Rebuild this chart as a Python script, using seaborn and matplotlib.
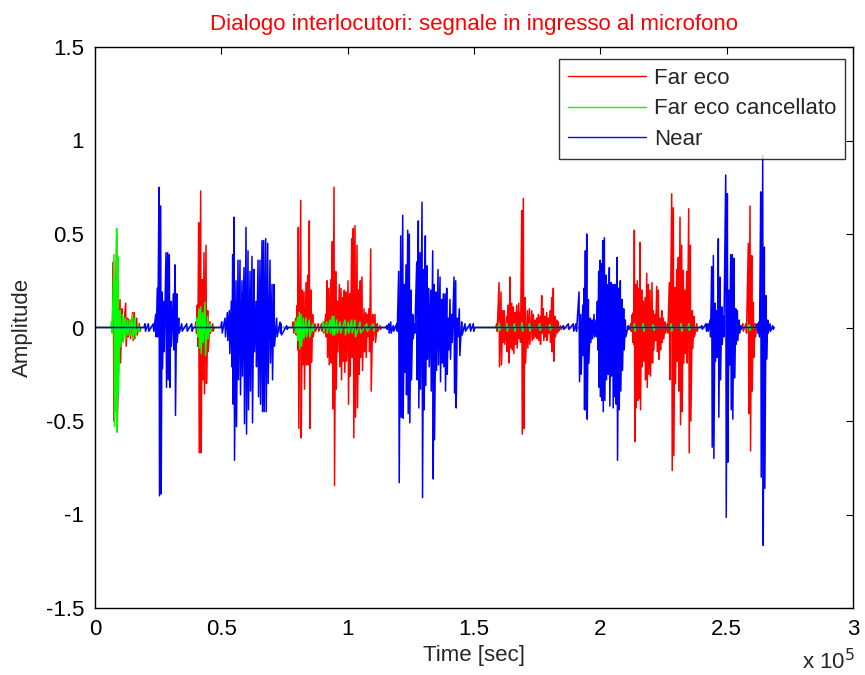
import numpy as np
import pandas as pd
import matplotlib
matplotlib.use("Agg")
import matplotlib.pyplot as plt
import seaborn as sns
from matplotlib.ticker import FuncFormatter, MultipleLocator

# ---------------- data (sample index, positive peak, negative peak)
far_t = [7260, 8580, 9900, 10690, 12140, 12930, 13850, 14900, 15560, 16500, 17540,
         39980, 40490, 41040, 41830, 42470, 43140, 43930, 44600, 45520, 46580,
         78490, 79440, 80070, 80470, 81420, 82050, 82720, 83510, 84180, 84820, 85490, 86160, 87080, 88380, 89700,
         90360, 91310, 91830, 92500, 93290, 93930, 94600, 95270, 95910, 96700, 97370, 98040, 98670, 99340,
         100140, 100810, 101600, 102230, 102910, 103700, 104370, 105000, 105680, 106470, 107140, 107780,
         108450, 109120, 109910, 110820, 111730, 112800,
         158990, 159900, 160690, 161360, 162000, 162950, 163580, 164260, 164930, 165560, 166240, 166910,
         167700, 168220, 168890, 169520, 170190, 171110, 171900, 172840, 173480, 174150, 174830, 175460,
         176130, 176800, 177440, 178110, 178780, 179420, 180090, 180760, 181390, 182070, 182740, 183380, 184320,
         212030, 212660, 213060, 213460, 214010, 214640, 215190, 215710, 216380, 217010, 217690, 218360,
         218990, 219670, 220460, 220970, 221650, 222320, 222960, 223630, 224300, 224930, 225610, 226520,
         227310, 228250, 228890, 229560, 230240, 230870, 231540, 232210, 232840, 233520, 234190, 234980,
         235620, 236410, 237080, 238150,
         256360, 257660, 258570, 259250, 259920, 260550, 261230, 261900]
far_hi = [0.35, 0.50, 0.15, 0.10, 0.13, 0.05, 0.04, 0.08, 0.08, 0.05, 0.02,
          0.03, 0.12, 0.56, 0.73, 0.255, 0.40, 0.44, 0.09, 0.03, 0.02,
          0.03, 0.05, 0.12, 0.535, 0.68, 0.20, 0.19, 0.24, 0.28, 0.57, 0.20, 0.07, 0.02, 0.02, 0.02,
          0.03, 0.07, 0.25, 0.21, 0.255, 0.46, 0.75, 0.30, 0.14, 0.23, 0.21, 0.16, 0.20, 0.19,
          0.25, 0.18, 0.475, 0.53, 0.545, 0.44, 0.20, 0.25, 0.27, 0.10, 0.08, 0.07,
          0.10, 0.42, 0.07, 0.07, 0.02, 0.01,
          0.02, 0.24, 0.19, 0.09, 0.09, 0.06, 0.12, 0.27, 0.13, 0.11, 0.08, 0.12,
          0.13, 0.08, 0.625, 0.69, 0.16, 0.09, 0.10, 0.09, 0.07, 0.04, 0.05, 0.07,
          0.06, 0.17, 0.10, 0.06, 0.08, 0.05, 0.09, 0.16, 0.21, 0.06, 0.04, 0.03, 0.01,
          0.02, 0.07, 0.08, 0.52, 0.23, 0.25, 0.21, 0.455, 0.20, 0.14, 0.16, 0.29,
          0.23, 0.20, 0.24, 0.09, 0.07, 0.22, 0.20, 0.05, 0.09, 0.05, 0.03, 0.02,
          0.24, 0.715, 0.64, 0.215, 0.31, 0.375, 0.59, 0.44, 0.305, 0.20, 0.30, 0.635,
          0.44, 0.09, 0.06, 0.02,
          0.02, 0.02, 0.45, 0.65, 0.385, 0.135, 0.02, 0.01]
far_lo = [-0.50, -0.55, -0.19, -0.07, -0.10, -0.05, -0.06, -0.07, -0.06, -0.04, -0.02,
          -0.03, -0.10, -0.67, -0.67, -0.28, -0.355, -0.30, -0.13, -0.03, -0.02,
          -0.03, -0.04, -0.12, -0.54, -0.59, -0.20, -0.33, -0.20, -0.20, -0.54, -0.185, -0.05, -0.02, -0.02, -0.02,
          -0.03, -0.05, -0.16, -0.20, -0.19, -0.435, -0.845, -0.33, -0.13, -0.21, -0.28, -0.18, -0.24, -0.18,
          -0.41, -0.26, -0.16, -0.59, -0.48, -0.43, -0.25, -0.16, -0.23, -0.13, -0.16, -0.05,
          -0.13, -0.34, -0.07, -0.08, -0.02, -0.01,
          -0.02, -0.21, -0.20, -0.08, -0.09, -0.13, -0.19, -0.11, -0.12, -0.14, -0.09, -0.11,
          -0.06, -0.08, -0.57, -0.54, -0.19, -0.11, -0.09, -0.07, -0.06, -0.05, -0.06, -0.07,
          -0.09, -0.03, -0.07, -0.05, -0.07, -0.03, -0.08, -0.13, -0.18, -0.05, -0.03, -0.02, -0.01,
          -0.02, -0.08, -0.09, -0.61, -0.43, -0.39, -0.38, -0.44, -0.21, -0.18, -0.28, -0.32,
          -0.25, -0.26, -0.19, -0.12, -0.07, -0.13, -0.17, -0.12, -0.08, -0.06, -0.03, -0.03,
          -0.28, -0.765, -0.685, -0.30, -0.18, -0.34, -0.52, -0.45, -0.19, -0.14, -0.19, -0.67,
          -0.50, -0.11, -0.05, -0.02,
          -0.02, -0.03, -0.46, -0.66, -0.34, -0.16, -0.05, -0.01]

canc_t = [6600, 7520, 8190, 8580, 9100, 9900, 10960, 11870, 12800, 13850, 14900, 15830, 17150,
          40490, 41170, 41830, 42600, 43540, 44600, 45520,
          79440, 80200, 80870, 81530, 82450, 83510, 84820, 86160,
          90360, 91700, 93010, 93930, 94600, 95670, 96970, 98950, 100270, 101600, 102910, 104890, 107530, 110170,
          160000, 163000, 166000, 169000, 172000, 176000, 180000,
          213500, 217000, 221000, 228000, 232000, 235000,
          259000]
canc_hi = [0.03, 0.39, 0.25, 0.53, 0.38, 0.09, 0.07, 0.05, 0.04, 0.04, 0.07, 0.05, 0.02,
           0.05, 0.10, 0.11, 0.08, 0.135, 0.06, 0.02,
           0.03, 0.055, 0.08, 0.07, 0.05, 0.05, 0.04, 0.02,
           0.03, 0.03, 0.04, 0.06, 0.06, 0.04, 0.03, 0.04, 0.03, 0.04, 0.04, 0.03, 0.02, 0.02,
           0.02, 0.02, 0.02, 0.025, 0.02, 0.02, 0.015,
           0.02, 0.02, 0.015, 0.02, 0.02, 0.02,
           0.015]
canc_lo = [-0.03, -0.53, -0.45, -0.56, -0.35, -0.10, -0.08, -0.06, -0.04, -0.04, -0.06, -0.05, -0.02,
           -0.05, -0.11, -0.14, -0.08, -0.15, -0.06, -0.02,
           -0.03, -0.07, -0.115, -0.10, -0.06, -0.05, -0.05, -0.02,
           -0.02, -0.03, -0.03, -0.04, -0.04, -0.03, -0.03, -0.04, -0.03, -0.03, -0.05, -0.03, -0.02, -0.02,
           -0.015, -0.02, -0.02, -0.02, -0.02, -0.015, -0.015,
           -0.02, -0.02, -0.015, -0.02, -0.02, -0.015,
           -0.015]

near_t = [19790, 21100, 23080, 24020, 24660, 25330, 26000, 26520, 27190, 28100, 28770, 29410, 30080,
          31000, 31660, 32340, 33130, 34320, 36300, 38270,
          50150, 51450, 52370, 53150, 53950, 54500, 55020, 55810, 56600, 57390, 58180, 58970, 59770,
          60560, 61350, 62140, 62930, 63720, 64520, 65310, 66100, 66760, 67560, 68350, 69270, 70060,
          70850, 71900, 73220, 73620, 75870,
          115450, 116240, 117040, 118070, 119410, 120200, 120990, 121790, 122420, 123090, 123760, 124400,
          125070, 125750, 126380, 127330, 127960, 128640, 129430, 130100, 130730, 131400, 132080, 132870,
          133660, 134180, 134970, 135760, 136550, 137220, 137860, 138530, 139200, 139840, 140510, 141180,
          142090, 142760, 143400, 144190, 145120, 146450, 148430, 149720,
          185370, 187350, 189300, 190380, 191570, 192240, 193030, 193550, 194070, 194620, 195250, 196040,
          196710, 197500, 198290, 198820, 199360, 199880, 200400, 200950, 201590, 202250, 202920, 203560,
          204230, 204900, 205540, 206090, 206610, 207280, 207910, 208580, 209250, 209890, 211080,
          240130, 241830, 242490, 243420, 244080, 244740, 245400, 246070, 246700, 247380, 248050, 248680,
          249630, 250270, 250940, 251610, 252240, 252910, 253590, 254220, 254890, 255560,
          262140, 262810, 263480, 264270, 264910, 265580, 266250, 267170, 268230]
near_hi = [0.02, 0.02, 0.02, 0.07, 0.21, 0.75, 0.65, 0.19, 0.14, 0.40, 0.40, 0.39, 0.14,
           0.18, 0.335, 0.18, 0.05, 0.02, 0.02, 0.02,
           0.03, 0.05, 0.08, 0.09, 0.14, 0.39, 0.59, 0.25, 0.36, 0.36, 0.25, 0.32, 0.535,
           0.41, 0.30, 0.38, 0.31, 0.14, 0.36, 0.36, 0.465, 0.465, 0.475, 0.45, 0.36, 0.23,
           0.23, 0.05, 0.03, 0.02, 0.01,
           0.01, 0.02, 0.03, 0.01, 0.02, 0.30, 0.49, 0.60, 0.23, 0.335, 0.52, 0.50,
           0.20, 0.07, 0.02, 0.35, 0.57, 0.40, 0.67, 0.31, 0.49, 0.33, 0.21, 0.20,
           0.41, 0.23, 0.19, 0.31, 0.27, 0.15, 0.18, 0.18, 0.21, 0.05, 0.15, 0.07,
           0.27, 0.25, 0.05, 0.10, 0.03, 0.02, 0.02, 0.02,
           0.01, 0.02, 0.02, 0.02, 0.19, 0.07, 0.12, 0.21, 0.41, 0.50, 0.15, 0.05,
           0.04, 0.07, 0.04, 0.14, 0.30, 0.36, 0.34, 0.465, 0.48, 0.28, 0.23, 0.32,
           0.24, 0.23, 0.23, 0.23, 0.375, 0.21, 0.25, 0.15, 0.10, 0.04, 0.01,
           0.01, 0.02, 0.02, 0.04, 0.325, 0.385, 0.13, 0.09, 0.475, 0.27, 0.11, 0.06,
           0.815, 0.715, 0.20, 0.39, 0.39, 0.37, 0.10, 0.09, 0.04, 0.01,
           0.02, 0.03, 0.725, 0.92, 0.43, 0.17, 0.04, 0.02, 0.01]
near_lo = [-0.02, -0.02, -0.02, -0.05, -0.05, -0.90, -0.89, -0.22, -0.13, -0.32, -0.28, -0.32, -0.10,
           -0.12, -0.47, -0.08, -0.03, -0.02, -0.02, -0.02,
           -0.03, -0.05, -0.07, -0.14, -0.21, -0.41, -0.71, -0.53, -0.28, -0.36, -0.26, -0.515, -0.57,
           -0.44, -0.34, -0.51, -0.13, -0.21, -0.37, -0.41, -0.45, -0.45, -0.45, -0.30, -0.19, -0.28,
           -0.10, -0.05, -0.03, -0.04, -0.01,
           -0.01, -0.03, -0.03, -0.02, -0.02, -0.83, -0.48, -0.485, -0.24, -0.36, -0.46, -0.51,
           -0.28, -0.06, -0.03, -0.28, -0.43, -0.33, -0.91, -0.44, -0.31, -0.17, -0.21, -0.34,
           -0.81, -0.60, -0.23, -0.20, -0.29, -0.19, -0.21, -0.34, -0.25, -0.12, -0.17, -0.08,
           -0.35, -0.43, -0.05, -0.15, -0.04, -0.02, -0.02, -0.02,
           -0.01, -0.01, -0.02, -0.02, -0.29, -0.25, -0.15, -0.44, -0.44, -0.49, -0.19, -0.08,
           -0.06, -0.05, -0.05, -0.12, -0.32, -0.37, -0.39, -0.45, -0.39, -0.28, -0.25, -0.42,
           -0.26, -0.43, -0.37, -0.41, -0.71, -0.44, -0.34, -0.23, -0.12, -0.05, -0.01,
           -0.01, -0.02, -0.02, -0.05, -0.64, -0.70, -0.18, -0.16, -0.48, -0.28, -0.09, -0.05,
           -1.015, -0.72, -0.20, -0.44, -0.49, -0.27, -0.09, -0.07, -0.03, -0.01,
           -0.03, -0.05, -0.80, -1.165, -0.86, -0.17, -0.03, -0.02, -0.01]

signal_end = 268500
series_names = ["Far eco", "Far eco cancellato", "Near"]
series_colors = ["#ff0000", "#00ff00", "#0000ff"]
title_text = "Dialogo interlocutori: segnale in ingresso al microfono"


def waveform(t, hi, lo, end, half=200, gap=2500):
    """Turn peak lists into a zig-zag trace on a zero baseline."""
    xs, ys = [0.0], [0.0]
    prev = None
    for ti, h, l in zip(t, hi, lo):
        if prev is None or ti - prev > gap:
            if prev is not None:
                xs.append(prev + 2 * half); ys.append(0.0)
            xs.append(ti - 2 * half); ys.append(0.0)
        xs += [ti, ti + half]
        ys += [h, l]
        prev = ti + half
    xs += [prev + 2 * half, end]
    ys += [0.0, 0.0]
    return np.array(xs), np.array(ys)


sns.set_style("white")
plt.rcParams["font.family"] = ["Liberation Sans", "DejaVu Sans"]
plt.rcParams["axes.unicode_minus"] = False

FS = 16
fig = plt.figure(figsize=(8.65, 6.75), dpi=100)
ax = fig.add_axes([95 / 865, 1 - 608 / 675, (853 - 95) / 865, (608 - 47) / 675])

for (t, hi, lo), name, col in zip([(far_t, far_hi, far_lo), (canc_t, canc_hi, canc_lo),
                                   (near_t, near_hi, near_lo)], series_names, series_colors):
    xs, ys = waveform(t, hi, lo, signal_end)
    df = pd.DataFrame({"t": xs, "a": ys})
    sns.lineplot(data=df, x="t", y="a", sort=False, estimator=None, color=col,
                 linewidth=1.1, ax=ax, label=name)

ax.set_xlim(0, 3e5)
ax.set_ylim(-1.5, 1.5)
ax.xaxis.set_major_locator(MultipleLocator(0.5e5))
ax.yaxis.set_major_locator(MultipleLocator(0.5))
ax.xaxis.set_major_formatter(FuncFormatter(lambda v, p: f"{v / 1e5:g}"))
ax.yaxis.set_major_formatter(FuncFormatter(lambda v, p: f"{v:g}"))
ax.tick_params(direction="in", length=5, width=0.8, top=True, right=True,
               labelsize=FS, colors="black")
ax.tick_params(axis="y", pad=8)
ax.tick_params(axis="x", pad=8)
for s in ax.spines.values():
    s.set_visible(True)
    s.set_color("black")
    s.set_linewidth(1.0)

ax.set_xlabel("Time [sec]", fontsize=FS)
ax.xaxis.set_label_coords(0.5, -(645 - 608) / 561)
ax.set_ylabel("Amplitude", fontsize=FS)
ax.yaxis.set_label_coords((33 - 95) / 758, 0.5)
ax.set_title(title_text, color="red", fontsize=FS, y=1 + (47 - 30) / 561, pad=0)
fig.text(855 / 865, 1 - 669 / 675, "x 10$^5$", fontsize=FS, ha="right", va="baseline")

leg = ax.legend(loc="upper right", bbox_to_anchor=((845 - 95) / 758, 1 - (59 - 47) / 561),
                borderaxespad=0, fontsize=FS, frameon=True, fancybox=False,
                handlelength=3.5, handletextpad=0.35, labelspacing=0.43, borderpad=0.4)
leg.get_frame().set_edgecolor("black")
leg.get_frame().set_linewidth(1.0)
for h in leg.get_lines():
    h.set_linewidth(1.0)

fig.savefig("out.png", dpi=100)
